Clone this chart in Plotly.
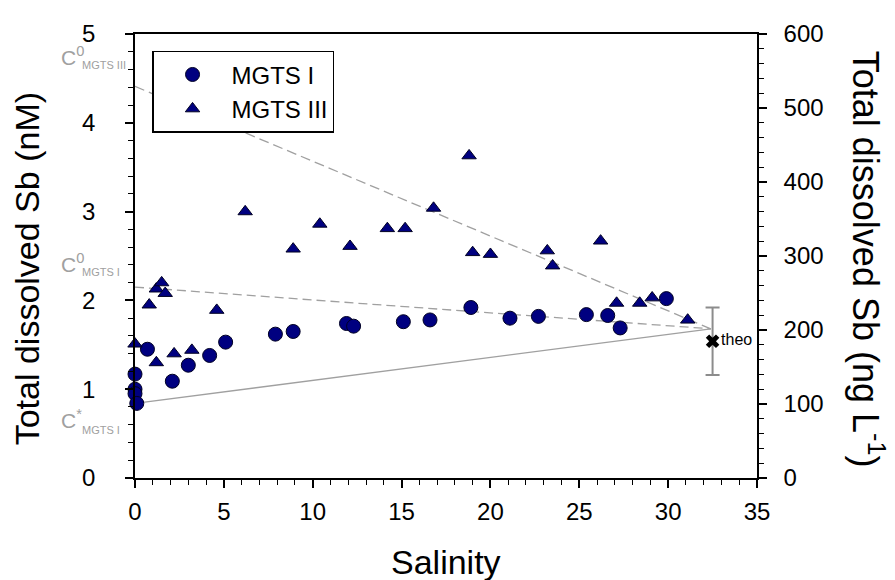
import plotly.graph_objects as go

# ---- data ----
mgts1_sal = [0.0, 0.0, 0.0, 0.1, 0.7, 2.1, 3.0, 4.2, 5.1, 7.9, 8.9, 11.9, 12.3,
             15.1, 16.6, 18.9, 21.1, 22.7, 25.4, 26.6, 27.3, 29.9]
mgts1_sb = [1.17, 1.00, 0.95, 0.84, 1.45, 1.09, 1.27, 1.38, 1.53, 1.62, 1.65, 1.74, 1.71,
            1.76, 1.78, 1.92, 1.80, 1.82, 1.84, 1.83, 1.69, 2.02]

mgts3_sal = [0.0, 1.2, 2.2, 3.2, 0.8, 1.2, 1.5, 1.7, 4.6, 6.2, 8.9, 10.4, 12.1,
             14.2, 15.2, 16.8, 18.8, 19.0, 20.0, 23.2, 23.5, 26.2, 27.1, 28.4, 29.1, 31.1]
mgts3_sb = [1.51, 1.30, 1.40, 1.44, 1.95, 2.13, 2.20, 2.08, 1.89, 3.00, 2.58, 2.86, 2.61,
            2.81, 2.81, 3.04, 3.63, 2.54, 2.52, 2.56, 2.39, 2.67, 1.97, 1.97, 2.03, 1.78]

# mixing lines (end members)
line_sal = [0.0, 32.4]
c0_mgts3 = [4.41, 1.68]
c0_mgts1 = [2.15, 1.68]
cstar_mgts1 = [0.84, 1.68]

# theoretical value
theo_sal = [32.5]
theo_sb = [1.54]
theo_err = [0.38]

x_ticks = [0, 5, 10, 15, 20, 25, 30, 35]
y_ticks = [0, 1, 2, 3, 4, 5]
y2_ticks = [0, 100, 200, 300, 400, 500, 600]

FONT = "Liberation Sans, Arial, sans-serif"
NAVY = "rgb(0,0,128)"
EDGE = "rgb(0,0,35)"
GRAY = "rgb(160,160,160)"

fig = go.Figure()

fig.add_trace(go.Scatter(x=line_sal, y=c0_mgts3, mode="lines", showlegend=False,
                         line=dict(color=GRAY, width=1.3, dash="10px,5px"), hoverinfo="skip"))
fig.add_trace(go.Scatter(x=line_sal, y=c0_mgts1, mode="lines", showlegend=False,
                         line=dict(color=GRAY, width=1.3, dash="9px,5px"), hoverinfo="skip"))
fig.add_trace(go.Scatter(x=line_sal, y=cstar_mgts1, mode="lines", showlegend=False,
                         line=dict(color=GRAY, width=1.3), hoverinfo="skip"))

fig.add_trace(go.Scatter(x=mgts1_sal, y=mgts1_sb, mode="markers", name="MGTS I",
                         cliponaxis=False,
                         marker=dict(symbol="circle", size=14, color=NAVY,
                                     line=dict(color=EDGE, width=1))))
fig.add_trace(go.Scatter(x=mgts3_sal, y=mgts3_sb, mode="markers", name="MGTS III",
                         cliponaxis=False,
                         marker=dict(symbol="triangle-up", size=12.5, color=NAVY,
                                     line=dict(color=EDGE, width=1))))

fig.add_trace(go.Scatter(x=theo_sal, y=theo_sb, mode="markers+text", showlegend=False,
                         text=["theo"], textposition="middle right",
                         textfont=dict(family=FONT, size=16, color="black"),
                         cliponaxis=False,
                         marker=dict(symbol="x", size=12, color="black"),
                         error_y=dict(type="data", array=theo_err, visible=True,
                                      color="rgb(140,140,140)", thickness=2, width=7)))

# secondary (ng/L) axis carrier
fig.add_trace(go.Scatter(x=[None], y=[None], yaxis="y2", showlegend=False, hoverinfo="skip"))

axis_common = dict(showgrid=False, zeroline=False, showline=True, linecolor="black",
                   linewidth=1.5, ticks="outside", tickcolor="black", tickwidth=1.5,
                   ticklen=8, tickfont=dict(family=FONT, size=24, color="black"))

# the page body has an 8px margin, so the figure is 8px smaller and margins shifted
fig.update_layout(
    width=887, height=572,
    margin=dict(l=127, r=138, t=21, b=102),
    paper_bgcolor="white", plot_bgcolor="white",
    font=dict(family=FONT, color="black"),
    xaxis=dict(range=[0, 35], tickvals=x_ticks, mirror=True, ticklabelstandoff=3,
               minor=dict(dtick=1, ticks="outside", ticklen=5, tickwidth=1.2, tickcolor="black"),
               **axis_common),
    yaxis=dict(range=[0, 5], tickvals=y_ticks, ticklabelstandoff=25,
               minor=dict(dtick=0.2, ticks="outside", ticklen=5, tickwidth=1.2, tickcolor="black"),
               **axis_common),
    yaxis2=dict(range=[0, 600], tickvals=y2_ticks, overlaying="y", side="right",
                ticklabelstandoff=12,
                minor=dict(dtick=20, ticks="outside", ticklen=5, tickwidth=1.2, tickcolor="black"),
                **axis_common),
    legend=dict(x=0.0274, y=0.962, xanchor="left", yanchor="top",
                bordercolor="black", borderwidth=1.5, bgcolor="white",
                font=dict(family=FONT, size=24, color="black"),
                itemwidth=68, indentation=0),
    showlegend=True,
)

annotations = [
    dict(text="Total dissolved Sb (nM)", xref="paper", yref="paper", x=-0.1736, y=0.47,
         textangle=-90, showarrow=False, xanchor="center", yanchor="middle",
         font=dict(family=FONT, size=34, color="black")),
    dict(text="Total dissolved Sb (ng L<sup>-1</sup>)", xref="paper", yref="paper", x=1.179, y=0.493,
         textangle=90, showarrow=False, xanchor="center", yanchor="middle",
         font=dict(family=FONT, size=36, color="black")),
    dict(text="Salinity", xref="paper", yref="paper", x=0.5, y=-0.19,
         showarrow=False, xanchor="center", yanchor="middle",
         font=dict(family=FONT, size=34, color="black")),
]
c_labels = [("C<sup>0</sup>", "MGTS III", 4.75, 4.65),
            ("C<sup>0</sup>", "MGTS I", 2.42, 2.32),
            ("C<sup>*</sup>", "MGTS I", 0.66, 0.54)]
for main, sub, ym, ys in c_labels:
    annotations.append(dict(text=main, xref="paper", yref="y", x=-0.1222, y=ym, showarrow=False,
                            xanchor="left", yanchor="middle",
                            font=dict(family=FONT, size=21, color=GRAY)))
    annotations.append(dict(text=sub, xref="paper", yref="y", x=-0.0884, y=ys, showarrow=False,
                            xanchor="left", yanchor="middle",
                            font=dict(family=FONT, size=11, color=GRAY)))
fig.update_layout(annotations=annotations)

fig.write_html("out.html")
